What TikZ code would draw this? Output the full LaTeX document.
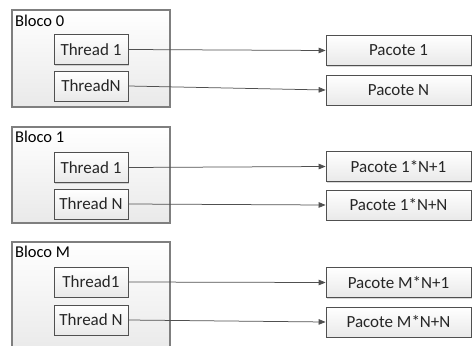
\documentclass[tikz,border=0pt]{standalone}
\usepackage{fontspec}
\setmainfont{Carlito}
\usetikzlibrary{arrows.meta,shadows}
\definecolor{edgegray}{HTML}{7F7F7F}
\definecolor{boxgray}{HTML}{505050}
\definecolor{txtgray}{HTML}{262626}
\definecolor{fillbot}{HTML}{E9E9E9}
\tikzset{
  bloco/.style={draw=edgegray, line width=1.1pt, top color=white, bottom color=fillbot,
    drop shadow={shadow xshift=1.2pt, shadow yshift=-1.2pt, fill=black, opacity=0.18},
    minimum width=158pt, inner sep=0pt},
  blocolabel/.style={anchor=north west, inner sep=0pt, text=black,
    font=\fontsize{16.5}{19}\selectfont},
  thread/.style={draw=boxgray, line width=0.75pt, top color=white, bottom color=fillbot,
    drop shadow={shadow xshift=1pt, shadow yshift=-1pt, fill=black, opacity=0.15},
    minimum width=74pt, minimum height=30pt, inner sep=0pt, text=txtgray,
    font=\fontsize{17}{20}\selectfont},
  pacote/.style={draw=boxgray, line width=0.75pt, top color=white, bottom color=fillbot,
    drop shadow={shadow xshift=1pt, shadow yshift=-1pt, fill=black, opacity=0.15},
    minimum width=145pt, minimum height=30pt, inner sep=0pt, text=txtgray,
    font=\fontsize{17}{20}\selectfont},
  link/.style={draw=boxgray, line width=0.75pt, -{Triangle[length=7pt,width=5.5pt]}},
}
\begin{document}
\begin{tikzpicture}[x=1pt,y=-1pt]
\useasboundingbox (0,0) rectangle (473,345);
\begin{scope}
\clip (0,0) rectangle (473,345);

% block 0
\node[bloco, minimum height=97pt] (b0) at (91,58.5) {};
\node[blocolabel] (b0l) at (15,15) {Bloco 0};
\node[thread] (t01) at (91,49.5) {Thread 1};
\node[thread] (t0n) at (91,86) {ThreadN};
\node[pacote] (p01) at (398.5,50.5) {Pacote 1};
\node[pacote] (p0n) at (398.5,90) {Pacote N};
\draw[link] (t01.east) -- (p01.west);
\draw[link] (t0n.east) -- (p0n.west);

% block 1
\node[bloco, minimum height=96pt] (b1) at (91,175) {};
\node[blocolabel] (b1l) at (15,131) {Bloco 1};
\node[thread] (t11) at (91,167.5) {Thread 1};
\node[thread] (t1n) at (91,204) {Thread N};
\node[pacote] (p11) at (398.5,166.5) {Pacote 1*N+1};
\node[pacote] (p1n) at (398.5,205) {Pacote 1*N+N};
\draw[link] (t11.east) -- (p11.west);
\draw[link] (t1n.east) -- (p1n.west);

% block M
\node[bloco, minimum height=112pt] (bm) at (91,298) {};
\node[blocolabel] (bml) at (15,246) {Bloco M};
\node[thread] (tm1) at (91,282) {Thread1};
\node[thread] (tmn) at (91,320) {Thread N};
\node[pacote] (pm1) at (398.5,282.5) {Pacote M*N+1};
\node[pacote] (pmn) at (398.5,322) {Pacote M*N+N};
\draw[link] (tm1.east) -- (pm1.west);
\draw[link] (tmn.east) -- (pmn.west);
\end{scope}
\end{tikzpicture}
\end{document}
